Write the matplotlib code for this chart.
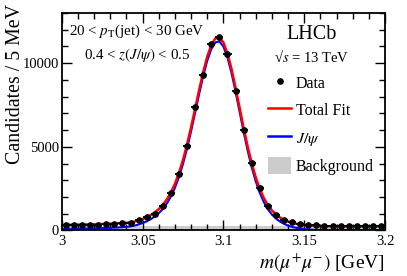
import numpy as np
import matplotlib
matplotlib.use("Agg")
import matplotlib.pyplot as plt
from matplotlib.patches import Patch
from matplotlib.lines import Line2D
from matplotlib.ticker import MultipleLocator

plt.rcParams['font.family'] = ['Liberation Serif', 'DejaVu Serif']
plt.rcParams['mathtext.fontset'] = 'stix'

# data: candidates per 5 MeV bin, 3.000 - 3.200 GeV
counts = [320, 330, 335, 340, 350, 400, 370, 440, 470, 600,
          790, 960, 1460, 2250, 3400, 5030, 7370, 9300, 11140, 11570,
          10550, 8330, 6030, 4060, 2510, 1480, 920, 620, 480, 390,
          330, 300, 290, 280, 280, 270, 270, 265, 260, 260]

# fit curves sampled every 2.5 MeV from 3.000 to 3.200 GeV
jpsi_fit = [90, 94, 98, 102, 107, 112, 117, 123, 129,
            136, 143, 151, 160, 170, 182, 196, 212, 240,
            290, 355, 440, 545, 675, 835, 1036, 1290, 1616,
            2030, 2551, 3201, 3986, 4905, 5939, 7048, 8174, 9237,
            10155, 10845, 11241, 11300, 10991, 10337, 9407, 8291, 7089,
            5891, 4769, 3774, 2930, 2240, 1694, 1272, 952, 711,
            530, 395, 293, 216, 158, 115, 82, 58, 41,
            28, 19, 13, 8, 5, 3, 2, 1, 1,
            0, 0, 0, 0, 0, 0, 0, 0, 0]
total_fit = [333, 337, 341, 345, 350, 355, 360, 366, 372,
             379, 386, 394, 403, 413, 425, 439, 455, 483,
             533, 598, 683, 788, 918, 1078, 1279, 1533, 1859,
             2273, 2794, 3444, 4229, 5148, 6182, 7291, 8417, 9480,
             10398, 11088, 11484, 11543, 11234, 10580, 9650, 8534, 7332,
             6134, 5012, 4017, 3173, 2483, 1937, 1515, 1195, 954,
             773, 638, 536, 459, 401, 358, 325, 301, 284,
             271, 262, 256, 251, 248, 246, 245, 244, 244,
             243, 243, 243, 243, 243, 243, 243, 243, 243]
bkg_x = [3.0, 3.2]
bkg_fit = [243, 243]

xticks = [3.0, 3.05, 3.1, 3.15, 3.2]
xticklabels = ['3', '3.05', '3.1', '3.15', '3.2']
yticks = [0, 5000, 10000]

m_lo, m_hi, bw = 3.0, 3.2, 0.005
centers = np.arange(m_lo + bw / 2, m_hi, bw)
m_fit = np.linspace(m_lo, m_hi, len(total_fit))
counts = np.array(counts)

fig = plt.figure(figsize=(4.07, 2.76), dpi=100)
ax = fig.add_axes([0.152, 0.165, 0.794, 0.788])

ax.fill_between(bkg_x, 0, bkg_fit, color='#cccccc', lw=0)
ax.plot(m_fit, jpsi_fit, color='#0000ff', lw=1.5)
ax.plot(m_fit, total_fit, color='#ff0000', lw=1.8)
ax.errorbar(centers, counts, xerr=bw / 2, yerr=np.sqrt(counts), fmt='o',
            color='black', ms=3.8, elinewidth=1.3, capsize=0)

ax.set_xlim(m_lo, m_hi)
ax.set_ylim(0, 13000)
ax.set_xticks(xticks, xticklabels)
ax.set_yticks(yticks)
ax.xaxis.set_minor_locator(MultipleLocator(0.01))
ax.yaxis.set_minor_locator(MultipleLocator(1000))
ax.tick_params(which='both', direction='in', top=True, right=True,
               labelsize=10.5, width=1)
ax.tick_params(which='major', length=7)
ax.tick_params(which='minor', length=4)
ax.tick_params(axis='y', pad=2)
for s in ax.spines.values():
    s.set_linewidth(1.3)

ax.set_xlabel(r'$m(\mu^{+}\mu^{-})$ [GeV]', fontsize=14, ha='right')
ax.xaxis.set_label_coords(1.0, -0.095)
ax.set_ylabel('Candidates / 5 MeV', fontsize=14.3, ha='right')
ax.yaxis.set_label_coords(-0.115, 1.041)

ax.text(0.232, 0.914, r'20 < $p_{\mathrm{T}}$(jet) < 30 GeV', transform=ax.transAxes,
        ha='center', va='center', fontsize=10.8)
ax.text(0.232, 0.807, r'0.4 < $z(J/\psi)$ < 0.5', transform=ax.transAxes,
        ha='center', va='center', fontsize=10.8)
ax.text(0.774, 0.901, 'LHCb', transform=ax.transAxes, ha='center', va='center',
        fontsize=14.5)
ax.text(0.774, 0.798, '\u221a$s$ = 13 TeV', transform=ax.transAxes,
        ha='center', va='center', fontsize=10.5)

handles = [Line2D([], [], ls='none', marker='o', color='black', ms=3.8),
           Line2D([], [], color='#ff0000', lw=1.8),
           Line2D([], [], color='#0000ff', lw=1.8),
           Patch(facecolor='#cccccc', edgecolor='none')]
labels = ['Data', 'Total Fit', r'$J/\psi$', 'Background']
ax.legend(handles, labels, loc='upper left', bbox_to_anchor=(0.638, 0.718),
          frameon=False, fontsize=11.5, borderpad=0, borderaxespad=0,
          handlelength=1.45, handleheight=1.25, handletextpad=0.3,
          labelspacing=0.59)

fig.savefig('out.png', dpi=100)
